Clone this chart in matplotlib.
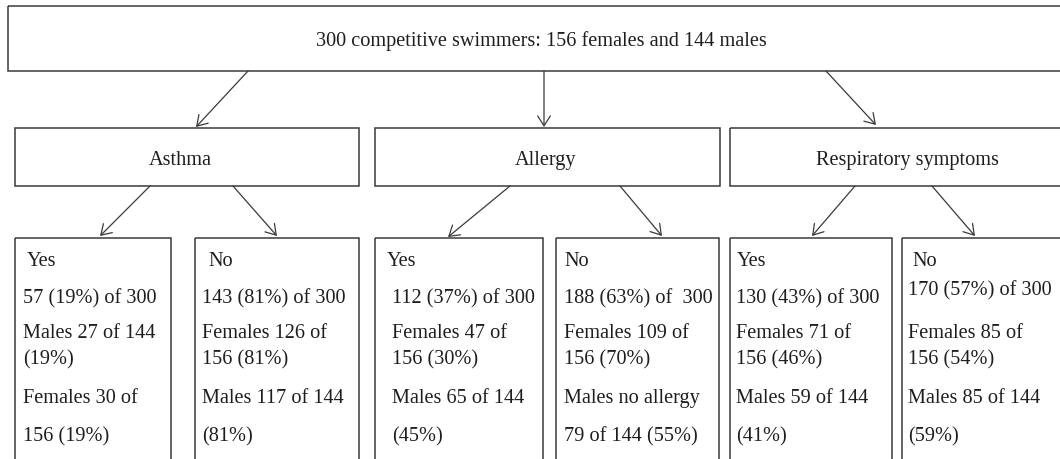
import matplotlib.pyplot as plt
from matplotlib.patches import Rectangle, FancyArrowPatch

# text content of the flowchart
title_text = "300 competitive swimmers: 156 females and 144 males"
categories = ["Asthma", "Allergy", "Respiratory symptoms"]

asthma_yes = ["Yes", "57 (19%) of 300", "Males 27 of 144", "(19%)", "Females 30 of", "156 (19%)"]
asthma_no = ["No", "143 (81%) of 300", "Females 126 of", "156 (81%)", "Males 117 of 144", "(81%)"]
allergy_yes = ["Yes", "112 (37%) of 300", "Females 47 of", "156 (30%)", "Males 65 of 144", "(45%)"]
allergy_no = ["No", "188 (63%) of  300", "Females 109 of", "156 (70%)", "Males no allergy", "79 of 144 (55%)"]
resp_yes = ["Yes", "130 (43%) of 300", "Females 71 of", "156 (46%)", "Males 59 of 144", "(41%)"]
resp_no = ["No", "170 (57%) of 300", "Females 85 of", "156 (54%)", "Males 85 of 144", "(59%)"]
leaf_texts = [asthma_yes, asthma_no, allergy_yes, allergy_no, resp_yes, resp_no]

# layout (pixel coordinates, y downwards)
top_box = (8, 7, 1070, 72)
mid_boxes = [(15, 129, 359, 187), (375, 129, 720, 187), (730, 129, 1070, 187)]
mid_text_x = [180, 546, 907]
leaf_boxes = [(15, 239, 171), (195, 239, 359), (375, 239, 543),
              (556, 239, 719), (730, 239, 892), (902, 239, 1070)]
leaf_text_x = [[27, 23, 23, 23, 23, 23], [208, 202, 202, 202, 202, 202],
               [387, 392, 392, 392, 392, 392], [564, 564, 564, 564, 564, 564],
               [737, 736, 736, 736, 736, 736], [912, 908, 908, 908, 908, 908]]
line_y = [262, 299, 334, 360, 399, 437]
resp_no_y = [262, 291, 334, 360, 399, 437]

top_arrows = [((248, 72), (196, 128)), ((544, 72), (544, 128)), ((826, 72), (876, 126))]
mid_arrows = [((150, 187), (100, 237)), ((233, 187), (277, 237)),
              ((510, 187), (448, 238)), ((620, 187), (662, 237)),
              ((855, 187), (812, 237)), ((932, 187), (975, 237))]

line_col = "#3a3a3a"
text_col = "#1e1e1e"
font = ["Liberation Serif", "DejaVu Serif"]
fs = 14.6

fig = plt.figure(figsize=(10.6, 4.6), dpi=100)
ax = fig.add_axes([0, 0, 1, 1])
ax.set_xlim(0, 1060)
ax.set_ylim(460, 0)
ax.axis("off")


def box(x0, y0, x1, y1):
    ax.add_patch(Rectangle((x0, y0), x1 - x0, y1 - y0, fill=False,
                           edgecolor=line_col, linewidth=1.1))


def arrow(p0, p1):
    ax.add_patch(FancyArrowPatch(p0, p1, arrowstyle="->,head_length=0.55,head_width=0.35",
                                 mutation_scale=13, color=line_col, linewidth=0.9,
                                 shrinkA=0, shrinkB=0))


box(*top_box)
ax.text(541, 41, title_text, ha="center", va="center", fontsize=fs,
        family=font, color=text_col)

for (x0, y0, x1, y1), tx, name in zip(mid_boxes, mid_text_x, categories):
    box(x0, y0, x1, y1)
    ax.text(tx, 161, name, ha="center", va="center", fontsize=fs,
            family=font, color=text_col)

for i, ((x0, y0, x1), lines) in enumerate(zip(leaf_boxes, leaf_texts)):
    box(x0, y0, x1, 480)
    ys = resp_no_y if i == 5 else line_y
    for tx, ty, s in zip(leaf_text_x[i], ys, lines):
        ax.text(tx, ty, s, ha="left", va="center", fontsize=fs,
                family=font, color=text_col)

for p0, p1 in top_arrows + mid_arrows:
    arrow(p0, p1)

fig.savefig("out.png", dpi=100)
